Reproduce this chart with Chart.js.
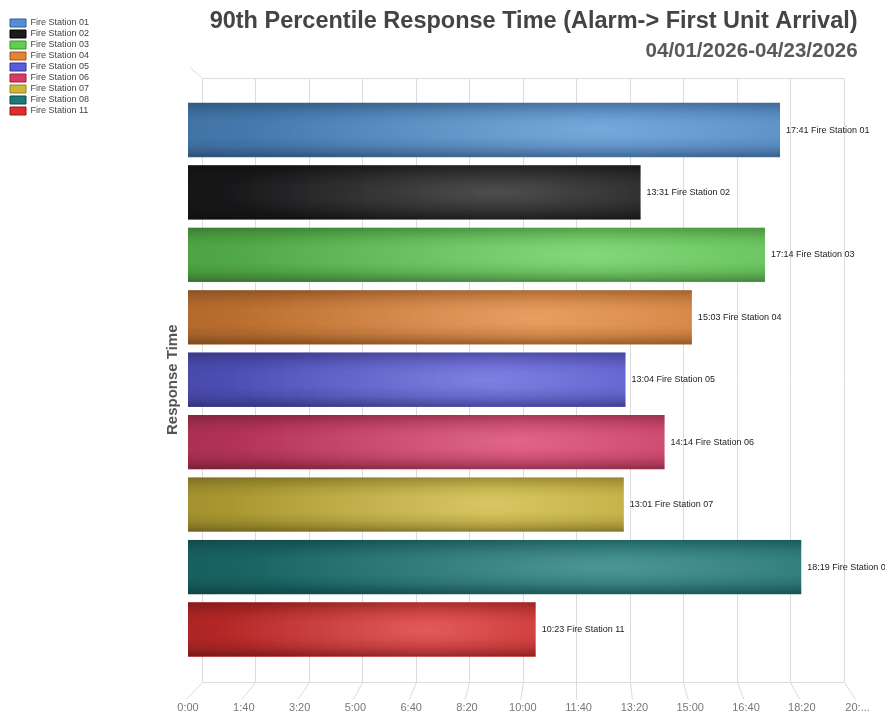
<!DOCTYPE html>
<html>
<head>
<meta charset="utf-8">
<title>90th Percentile Response Time</title>
<script src="https://cdn.jsdelivr.net/npm/chart.js@4.4.1/dist/chart.umd.min.js"></script>
<style>
  html, body { margin: 0; padding: 0; background: #fff; }
  #wrap { width: 885px; height: 713px; }
</style>
</head>
<body>
<div id="wrap"><canvas id="responseChart" width="885" height="713"></canvas></div>
<script>
"use strict";

// values (seconds)
const stations = [
  "Fire Station 01", "Fire Station 02", "Fire Station 03",
  "Fire Station 04", "Fire Station 05", "Fire Station 06",
  "Fire Station 07", "Fire Station 08", "Fire Station 11",
];
const responseSeconds = [1061, 811, 1034, 903, 784, 854, 781, 1099, 623];
const barColors = [
  "#5290d0", "#1c1c1e", "#62cc55", "#e08438", "#5c5cd8",
  "#d63c66", "#ccb63a", "#1e7878", "#d82e2e",
];
const legendBorders = [
  "#2f5f95", "#000000", "#3a8f30", "#a0521a", "#3333a0",
  "#99203e", "#958220", "#0b4a4a", "#9a1414",
];
const axisMax = 1200;
const axisStep = 100;

function formatTime(sec) {
  const m = Math.floor(sec / 60);
  const s = Math.round(sec % 60);
  return `${m}:${s.toString().padStart(2, "0")}`;
}

const fontFamily = "'Liberation Sans', Arial, sans-serif";

// back wall + floor lines of the 3d box
const backWall = {
  id: "backWall",
  beforeDatasetsDraw(chart) {
    const { ctx, chartArea: area, scales: { x } } = chart;
    const backLeft = area.left + 13.7;
    const shrink = 0.959;
    const topY = Math.round(area.top - 21) + 0.5;
    const floorY = Math.round(area.bottom + 21) + 0.5;
    const frontY = area.bottom + 39;
    const toBack = (px) => Math.round(backLeft + (px - area.left) * shrink) + 0.5;

    ctx.save();
    ctx.strokeStyle = "#dcdcdc";
    ctx.lineWidth = 1;
    ctx.beginPath();
    x.ticks.forEach((t) => {
      const fx = x.getPixelForValue(t.value);
      const bx = toBack(fx);
      ctx.moveTo(bx, topY);
      ctx.lineTo(bx, floorY);
      ctx.moveTo(bx, floorY);
      ctx.lineTo(fx - 2, frontY);
    });
    ctx.moveTo(toBack(area.left), topY);
    ctx.lineTo(toBack(area.right), topY);
    ctx.moveTo(toBack(area.left), floorY);
    ctx.lineTo(toBack(area.right), floorY);
    ctx.moveTo(area.left + 2, topY - 11);
    ctx.lineTo(toBack(area.left), topY);
    ctx.stroke();
    ctx.restore();
  },
};

// glossy shading over the flat bars, then the value labels
const barShading = {
  id: "barShading",
  afterDatasetsDraw(chart) {
    const { ctx } = chart;
    const meta = chart.getDatasetMeta(0);
    meta.data.forEach((bar, i) => {
      const { x, y, base, height } = bar.getProps(["x", "y", "base", "height"], true);
      const top = y - height / 2;
      const w = x - base;

      ctx.save();
      const hGrad = ctx.createLinearGradient(base, 0, x, 0);
      hGrad.addColorStop(0, "rgba(0,0,0,0.2)");
      hGrad.addColorStop(0.7, "rgba(0,0,0,0)");
      hGrad.addColorStop(1, "rgba(0,0,0,0.06)");
      ctx.fillStyle = hGrad;
      ctx.fillRect(base, top, w, height);

      // soft elliptical glow
      ctx.beginPath();
      ctx.rect(base, top, w, height);
      ctx.clip();
      ctx.translate(base + w * 0.68, y);
      ctx.scale(w * 0.6, height * 0.75);
      const glow = ctx.createRadialGradient(0, 0, 0, 0, 0, 1);
      glow.addColorStop(0, "rgba(255,255,255,0.22)");
      glow.addColorStop(1, "rgba(255,255,255,0)");
      ctx.fillStyle = glow;
      ctx.fillRect(-2, -2, 4, 4);
      ctx.restore();

      ctx.save();
      const vGrad = ctx.createLinearGradient(0, top, 0, top + height);
      vGrad.addColorStop(0, "rgba(0,0,0,0.24)");
      vGrad.addColorStop(0.1, "rgba(0,0,0,0.14)");
      vGrad.addColorStop(0.22, "rgba(0,0,0,0.05)");
      vGrad.addColorStop(0.36, "rgba(0,0,0,0)");
      vGrad.addColorStop(0.64, "rgba(0,0,0,0)");
      vGrad.addColorStop(0.8, "rgba(0,0,0,0.07)");
      vGrad.addColorStop(0.92, "rgba(0,0,0,0.2)");
      vGrad.addColorStop(0.98, "rgba(0,0,0,0.3)");
      vGrad.addColorStop(1, "rgba(0,0,0,0.15)");
      ctx.fillStyle = vGrad;
      ctx.fillRect(base, top, w, height);

      ctx.font = `9px ${fontFamily}`;
      ctx.fillStyle = "#222";
      ctx.textAlign = "left";
      ctx.textBaseline = "middle";
      ctx.fillText(`${formatTime(responseSeconds[i])} ${stations[i]}`, x + 6, y);
      ctx.restore();
    });
  },
};

const ctx = document.getElementById("responseChart").getContext("2d");

new Chart(ctx, {
  type: "bar",
  data: {
    labels: stations,
    datasets: [
      {
        label: "90th Percentile",
        data: responseSeconds,
        backgroundColor: barColors,
        borderWidth: 0,
        barPercentage: 0.87,
        categoryPercentage: 1,
      },
    ],
  },
  options: {
    indexAxis: "y",
    responsive: false,
    animation: false,
    layout: {
      padding: { left: 8, right: 27.4, top: 0, bottom: 0 },
    },
    plugins: {
      tooltip: { enabled: false },
      title: {
        display: true,
        fullSize: false,
        align: "end",
        text: "90th Percentile Response Time (Alarm-> First Unit Arrival)",
        color: "#444",
        font: { family: fontFamily, size: 23.5, weight: "bold" },
        padding: { top: 7, bottom: 3.5 },
      },
      subtitle: {
        display: true,
        fullSize: false,
        align: "end",
        text: "04/01/2026-04/23/2026",
        color: "#595959",
        font: { family: fontFamily, size: 20.5, weight: "bold" },
        padding: { top: 0, bottom: 35.5 },
      },
      legend: {
        display: true,
        position: "left",
        align: "start",
        onClick: null,
        title: {
          display: true,
          text: " ",
          font: { size: 1 },
          padding: { top: 15.3, bottom: 0 },
        },
        labels: {
          boxWidth: 16,
          boxHeight: 8,
          padding: 2,
          color: "#444",
          font: { family: fontFamily, size: 9 },
          generateLabels: () =>
            stations.map((name, i) => ({
              text: name,
              fillStyle: barColors[i],
              strokeStyle: legendBorders[i],
              lineWidth: 1,
              fontColor: "#444",
              hidden: false,
              index: i,
            })),
        },
      },
    },
    scales: {
      x: {
        min: 0,
        max: axisMax,
        grid: { display: false, drawTicks: false },
        border: { display: false },
        ticks: {
          stepSize: axisStep,
          autoSkip: false,
          maxRotation: 0,
          padding: 41,
          color: "#777",
          font: { family: fontFamily, size: 11 },
          callback: (value) => (value >= axisMax ? "20:..." : formatTime(value)),
        },
        afterFit: (scale) => {
          scale.height = 52.3;
          scale.paddingLeft = 0;
          scale.paddingRight = 0;
        },
      },
      y: {
        grid: { display: false, drawTicks: false },
        border: { display: false },
        ticks: { display: false },
        title: {
          display: true,
          text: "Response Time",
          color: "#555",
          font: { family: fontFamily, size: 15, weight: "bold" },
          padding: { top: 64.5, bottom: 0 },
        },
        afterFit: (scale) => {
          const legendWidth = scale.chart.legend ? scale.chart.legend.width : 0;
          scale.width = 188 - 8 - legendWidth;
        },
      },
    },
  },
  plugins: [backWall, barShading],
});
</script>
</body>
</html>
